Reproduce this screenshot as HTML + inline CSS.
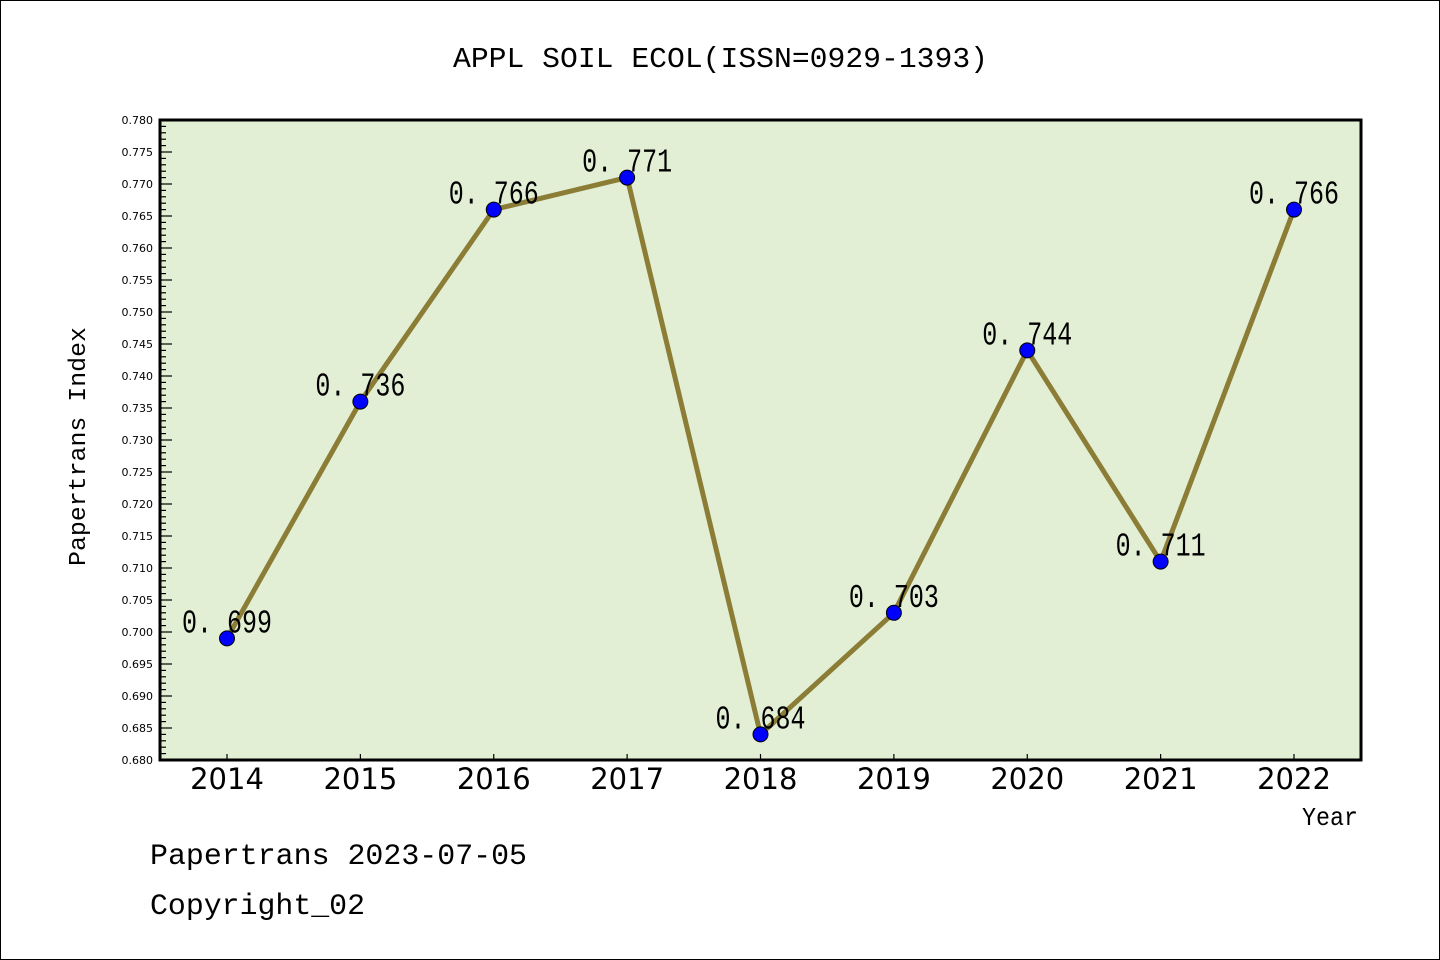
<!DOCTYPE html>
<html><head><meta charset="utf-8"><style>
html,body{margin:0;padding:0;background:#fff;}
svg{display:block;font-family:"Liberation Mono","DejaVu Sans Mono",monospace;}
</style></head><body>
<svg id="chart" width="1440" height="960" viewBox="0 0 1440 960">
<rect x="0.5" y="0.5" width="1439" height="959" fill="#fff" stroke="#000"/>
<text x="453" y="67" textLength="535" lengthAdjust="spacingAndGlyphs" font-size="29" fill="#000">APPL SOIL ECOL(ISSN=0929-1393)</text>
<rect x="160" y="120" width="1201" height="640" fill="#e2efd5"/>
<g id="yticks"></g><g id="xticks"></g>
<rect x="160" y="120" width="1201" height="640" fill="none" stroke="#000" stroke-width="3"/>
<g id="series"></g>
<text x="85" y="566" transform="rotate(-90 85 566)" textLength="239" lengthAdjust="spacingAndGlyphs" font-size="24" fill="#000">Papertrans Index</text>
<text x="1302" y="825" textLength="56" lengthAdjust="spacingAndGlyphs" font-size="26" fill="#000">Year</text>
<text x="150" y="864" textLength="377" lengthAdjust="spacingAndGlyphs" font-size="30" fill="#000">Papertrans 2023-07-05</text>
<text x="150" y="914" textLength="215" lengthAdjust="spacingAndGlyphs" font-size="30" fill="#000">Copyright_02</text>
</svg>
<script>
const years=["2014","2015","2016","2017","2018","2019","2020","2021","2022"];
const values=[0.699,0.736,0.766,0.771,0.684,0.703,0.744,0.711,0.766];
const yMin=0.680, yMax=0.780;
const NS="http://www.w3.org/2000/svg";
const x=i=>227+i*(1294-227)/(years.length-1);
const y=v=>760-(v-yMin)/(yMax-yMin)*640;
function mk(t,a,p){const e=document.createElementNS(NS,t);for(const k in a)e.setAttribute(k,a[k]);p.appendChild(e);return e;}
const yt=document.getElementById('yticks');
for(let k=0;k<=100;k++){
 const v=yMin+k*0.001, yy=y(v), major=k%5===0;
 const l=mk('line',{x1:160,x2:major?172:166,y1:yy,y2:yy,stroke:'#000','stroke-width':1.2},yt);
 
 
 if(major){const t=mk('text',{x:153,y:yy+4,'text-anchor':'end','font-size':11,'font-family':'"DejaVu Sans",sans-serif'},yt);t.textContent=v.toFixed(3);
 
 }
}
const xt=document.getElementById('xticks');
years.forEach((yr,i)=>{
 const l=mk('line',{x1:x(i),x2:x(i),y1:760,y2:754,stroke:'#000','stroke-width':1.2},xt);
 
 
 const t=mk('text',{x:x(i),y:789,'text-anchor':'middle','font-size':29,'font-family':'"DejaVu Sans",sans-serif'},xt);t.textContent=yr;
 
 
});
const s=document.getElementById('series');
const pl=mk('polyline',{points:values.map((v,i)=>x(i)+','+y(v)).join(' '),fill:'none',stroke:'#8b7d35','stroke-width':5,'stroke-linejoin':'round'},s);


values.forEach((v,i)=>{
 const c=mk('circle',{cx:x(i),cy:y(v),r:7.5,fill:'#0000ff',stroke:'#000','stroke-width':1},s);
 
 
 const t=mk('text',{x:x(i)-45,y:y(v)-6,textLength:90,lengthAdjust:'spacingAndGlyphs','font-size':33,fill:'#000'},s);
 t.textContent=v.toFixed(3).replace('.','. ');
 
 
});
</script>
</body></html>
